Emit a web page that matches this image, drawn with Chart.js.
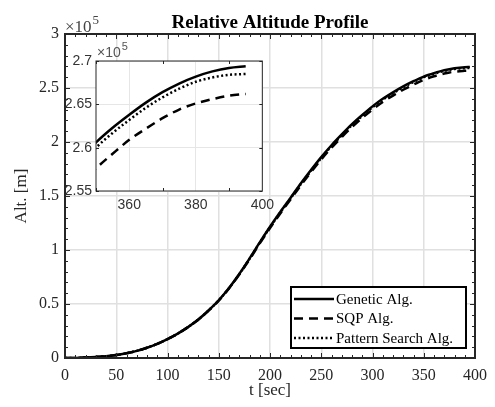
<!DOCTYPE html>
<html>
<head>
<meta charset="utf-8">
<script src="https://cdn.jsdelivr.net/npm/chart.js@4.4.0/dist/chart.umd.min.js"></script>
<style>
body{margin:0;background:#fff;}
#wrap{position:relative;width:495px;height:407px;}
#mainChart{position:absolute;left:0;top:0;}
#insetChart{position:absolute;left:40px;top:36px;}
</style>
</head>
<body>
<div id="wrap">
<canvas id="mainChart" width="495" height="407"></canvas>
<canvas id="insetChart" width="240" height="180"></canvas>
</div>
<script>
// time in sec, altitude in units of 1e5 m
const timeSec = [0,10,20,30,40,50,60,70,80,90,100,110,120,130,140,150,160,170,180,190,200,210,220,230,240,250,260,270,280,290,300,310,320,330,340,345,350,355,360,365,370,375,380,385,390,395];
const altGenetic = [0,0.001,0.004,0.009,0.016,0.027,0.044,0.066,0.095,0.131,0.175,0.226,0.286,0.356,0.44,0.535,0.648,0.778,0.92,1.07,1.215,1.352,1.482,1.615,1.74,1.86,1.97,2.07,2.165,2.25,2.33,2.40,2.46,2.515,2.563,2.585,2.606,2.623,2.638,2.652,2.664,2.674,2.682,2.688,2.692,2.694];
const altSQP = [0,0.001,0.004,0.009,0.016,0.027,0.044,0.066,0.095,0.131,0.175,0.226,0.286,0.355,0.438,0.532,0.644,0.773,0.913,1.061,1.203,1.338,1.467,1.598,1.721,1.839,1.947,2.046,2.139,2.223,2.301,2.37,2.43,2.484,2.532,2.555,2.576,2.593,2.609,2.622,2.634,2.644,2.651,2.656,2.66,2.662];
const altPattern = [0,0.001,0.004,0.009,0.016,0.027,0.044,0.066,0.095,0.131,0.175,0.226,0.286,0.356,0.439,0.534,0.647,0.776,0.918,1.067,1.211,1.347,1.477,1.609,1.733,1.852,1.962,2.062,2.157,2.242,2.322,2.392,2.452,2.507,2.556,2.579,2.6,2.617,2.632,2.646,2.658,2.668,2.676,2.681,2.684,2.685];
const seriesNames = ['Genetic Alg.', 'SQP Alg.', 'Pattern Search Alg.'];

const mainXTicks = [0,50,100,150,200,250,300,350,400];
const mainYTicks = [0,0.5,1,1.5,2,2.5,3];
const insetXTicks = [360,380,400];
const insetYTicks = [2.55,2.6,2.65,2.7];

const SERIF = "'Liberation Serif', 'Times New Roman', serif";
const SANS = "'Liberation Sans', Arial, sans-serif";
const AXCOL = '#262626';

function makeDatasets(w){
    return [
        {label: seriesNames[0], data: timeSec.map((t,i)=>({x:t, y:altGenetic[i]})), borderColor:'#000', borderWidth:w, borderDash:[]},
        {label: seriesNames[1], data: timeSec.map((t,i)=>({x:t, y:altSQP[i]})), borderColor:'#000', borderWidth:w, borderDash:[9,6]},
        {label: seriesNames[2], data: timeSec.map((t,i)=>({x:t, y:altPattern[i]})), borderColor:'#000', borderWidth:w, borderDash:[2,2.5]}
    ].map(d => Object.assign(d, {pointRadius:0, fill:false, cubicInterpolationMode:'monotone'}));
}

function setTicks(list){
    return function(scale){ scale.ticks = list.map(v => ({value:v})); };
}

// frame + inward ticks like matlab
function drawBox(chart, minorX, minorY, lenMaj, lenMin, lw){
    const ctx = chart.ctx;
    const a = chart.chartArea;
    const sx = chart.scales.x, sy = chart.scales.y;
    ctx.save();
    ctx.strokeStyle = AXCOL;
    ctx.lineWidth = 1;
    for(let v = sx.min; v <= sx.max + 1e-9; v += minorX){
        const px = Math.round(sx.getPixelForValue(v)) + 0.5;
        const isMaj = sx.ticks.some(t => Math.abs(t.value - v) < 1e-6);
        const len = isMaj ? lenMaj : lenMin;
        ctx.beginPath();
        ctx.moveTo(px, a.bottom); ctx.lineTo(px, a.bottom - len);
        ctx.moveTo(px, a.top); ctx.lineTo(px, a.top + len);
        ctx.stroke();
    }
    for(let v = sy.min; v <= sy.max + 1e-9; v += minorY){
        const py = Math.round(sy.getPixelForValue(v)) + 0.5;
        const isMaj = sy.ticks.some(t => Math.abs(t.value - v) < 1e-6);
        const len = isMaj ? lenMaj : lenMin;
        ctx.beginPath();
        ctx.moveTo(a.left, py); ctx.lineTo(a.left + len, py);
        ctx.moveTo(a.right, py); ctx.lineTo(a.right - len, py);
        ctx.stroke();
    }
    ctx.lineWidth = lw;
    ctx.strokeRect(a.left, a.top, a.right - a.left, a.bottom - a.top);
    ctx.restore();
}

function drawExponent(ctx, x, y, font, supFont, color, rise){
    ctx.save();
    ctx.fillStyle = color;
    ctx.textBaseline = 'alphabetic';
    ctx.textAlign = 'left';
    ctx.font = font;
    ctx.fillText('\u00d710', x, y);
    const w = ctx.measureText('\u00d710').width;
    ctx.font = supFont;
    ctx.fillText('5', x + w + 1, y - rise);
    ctx.restore();
}

const mainDecor = {
    id: 'mainDecor',
    afterDraw(chart){
        const ctx = chart.ctx;
        const a = chart.chartArea;
        drawBox(chart, 10, 0.1, 5, 3, 2);

        // title
        ctx.save();
        ctx.fillStyle = '#000';
        ctx.font = 'bold 19px ' + SERIF;
        ctx.textAlign = 'center';
        ctx.textBaseline = 'alphabetic';
        ctx.fillText('Relative Altitude Profile', (a.left + a.right) / 2, 28);
        ctx.restore();

        drawExponent(ctx, a.left, a.top - 2, '17px ' + SERIF, '13px ' + SERIF, '#444', 8);

        // legend inside lower right
        const bw = 175, bh = 61;
        const bx = a.right - 9 - bw, by = a.bottom - 10 - bh;
        ctx.save();
        ctx.fillStyle = '#fff';
        ctx.fillRect(bx, by, bw, bh);
        ctx.strokeStyle = '#000';
        ctx.lineWidth = 2;
        ctx.strokeRect(bx, by, bw, bh);
        ctx.font = '15px ' + SERIF;
        ctx.textBaseline = 'middle';
        ctx.fillStyle = '#000';
        chart.data.datasets.forEach((ds, i) => {
            const ly = by + 12 + i * 19.5;
            ctx.save();
            ctx.setLineDash(ds.borderDash);
            ctx.lineWidth = ds.borderWidth;
            ctx.beginPath();
            ctx.moveTo(bx + 3, ly); ctx.lineTo(bx + 43, ly);
            ctx.stroke();
            ctx.restore();
            ctx.fillText(ds.label, bx + 45, ly + 1);
        });
        ctx.restore();
    }
};

const insetDecor = {
    id: 'insetDecor',
    beforeDraw(chart){
        const a = chart.chartArea;
        chart.ctx.save();
        chart.ctx.fillStyle = '#fff';
        chart.ctx.fillRect(a.left, a.top, a.right - a.left, a.bottom - a.top);
        chart.ctx.restore();
    },
    afterDraw(chart){
        const a = chart.chartArea;
        drawBox(chart, 20, 0.05, 3, 3, 1);
        drawExponent(chart.ctx, a.left + 1, a.top - 4, '14px ' + SANS, '11px ' + SANS, '#555', 7);
    }
};

function buildMain(){
    const ctx = document.getElementById('mainChart').getContext('2d');
    return new Chart(ctx, {
        type: 'line',
        data: {datasets: makeDatasets(2.5)},
        plugins: [mainDecor],
        options: {
            responsive: false,
            animation: false,
            layout: {padding: {top: 34, right: 14, left: 0, bottom: 0}},
            plugins: {legend: {display: false}, tooltip: {enabled: false}},
            scales: {
                x: {
                    type: 'linear', min: 0, max: 400,
                    afterBuildTicks: setTicks(mainXTicks),
                    afterFit: s => { s.height = 49; },
                    grid: {color: '#e0e0e0', lineWidth: 1.5, drawTicks: false},
                    border: {display: false},
                    ticks: {padding: 8, color: AXCOL, font: {family: SERIF, size: 16}},
                    title: {display: true, text: 't [sec]', color: AXCOL, font: {family: SERIF, size: 17}, padding: {top: 0, bottom: 6}}
                },
                y: {
                    type: 'linear', min: 0, max: 3,
                    afterBuildTicks: setTicks(mainYTicks),
                    afterFit: s => { s.width = 65; },
                    grid: {color: '#e0e0e0', lineWidth: 1.5, drawTicks: false},
                    border: {display: false},
                    ticks: {padding: 6, color: AXCOL, font: {family: SERIF, size: 16}, callback: v => String(v)},
                    title: {display: true, text: 'Alt. [m]', color: AXCOL, font: {family: SERIF, size: 17}, padding: {top: 11, bottom: 0}}
                }
            }
        }
    });
}

function buildInset(){
    const ctx = document.getElementById('insetChart').getContext('2d');
    return new Chart(ctx, {
        type: 'line',
        data: {datasets: makeDatasets(2.5)},
        plugins: [insetDecor],
        options: {
            responsive: false,
            animation: false,
            layout: {padding: {top: 25, right: 10, left: 0, bottom: 0}},
            plugins: {legend: {display: false}, tooltip: {enabled: false}},
            scales: {
                x: {
                    type: 'linear', min: 350, max: 400,
                    afterBuildTicks: setTicks(insetXTicks),
                    afterFit: s => { s.height = 25; },
                    grid: {color: '#e6e6e6', lineWidth: 1, drawTicks: false},
                    border: {display: false},
                    ticks: {padding: 6, color: '#333', font: {family: SANS, size: 14}}
                },
                y: {
                    type: 'linear', min: 2.55, max: 2.7,
                    afterBuildTicks: setTicks(insetYTicks),
                    afterFit: s => { s.width = 56; },
                    grid: {color: '#e6e6e6', lineWidth: 1, drawTicks: false},
                    border: {display: false},
                    ticks: {padding: 4, color: '#333', font: {family: SANS, size: 14}, callback: v => String(v)}
                }
            }
        }
    });
}

buildMain();
buildInset();
console.log('charts drawn');
</script>
</body>
</html>
